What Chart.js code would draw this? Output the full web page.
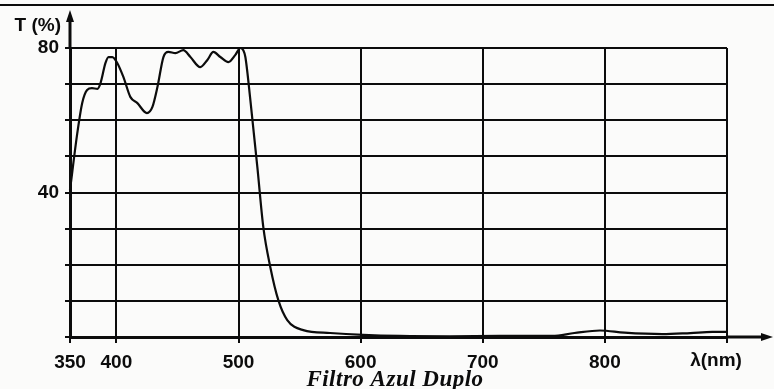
<!DOCTYPE html>
<html>
<head>
<meta charset="utf-8">
<style>
  html, body { margin: 0; padding: 0; background: #fbfbfa; }
</style>
<script src="https://cdn.jsdelivr.net/npm/chart.js@4/dist/chart.umd.min.js"></script>
</head>
<body>
<canvas id="chart" width="774" height="389"></canvas>
<script>
// Transmission curve of the double blue filter
const WAVELENGTH = [362, 368, 372, 376, 380, 384.5, 387, 391, 393.5, 396.7, 400.8, 405.7, 411.5, 417, 425,
    429.5, 433.6, 438.5, 442.6, 448.3, 454.8, 460.6, 468.7, 474.5, 479.4, 485.1, 491.7, 497.4, 501.5,
    503.9, 505.6, 509.7, 515.4, 520.3, 526, 532.6, 539.9, 553, 575, 602, 632, 673, 714, 757, 775, 796,
    816, 847, 870, 888, 900];
const TRANSMISSION = [40.7, 56.5, 64.8, 68.4, 68.9, 68.7, 70.3, 75.8, 77.5, 77.5, 75.8, 72, 66.4, 64.8, 62,
    63.7, 69.2, 77.5, 78.9, 78.6, 79.4, 77.5, 74.7, 76.7, 78.9, 77.5, 76.1, 78.1, 80,
    79.4, 77.5, 65.6, 47.1, 30.4, 19.4, 10.2, 4.7, 1.9, 1.1, 0.6, 0.3, 0.2, 0.3, 0.3, 1.1, 1.8,
    1.2, 0.8, 1.1, 1.4, 1.4];

// the printed axis starts a bit after 350 nm but is labelled 350
const X_MIN = 362;
const X_MAX = 900;
const X_TICK_VALUES = [362, 400, 500, 600, 700, 800, 900];
const X_TICK_LABELS = ['350', '400', '500', '600', '700', '800', ''];
const Y_TICK_LABELS = { 40: '40', 80: '80' };

const TITLE = 'Filtro Azul Duplo';
const Y_TITLE = 'T (%)';
const X_TITLE = 'λ(nm)';

const INK = '#0c0c0c';
const SANS = "'Liberation Sans', Arial, sans-serif";

const decorations = {
    id: 'decorations',
    beforeDraw(chart) {
        const { ctx } = chart;
        ctx.save();
        ctx.fillStyle = '#fbfbfa';
        ctx.fillRect(0, 0, chart.width, chart.height);
        ctx.restore();
    },
    afterDraw(chart) {
        const { ctx, chartArea: a } = chart;
        ctx.save();
        ctx.strokeStyle = INK;
        ctx.fillStyle = INK;

        // rule across the top of the page
        ctx.lineWidth = 2;
        ctx.beginPath();
        ctx.moveTo(0, 5);
        ctx.lineTo(chart.width, 5);
        ctx.stroke();

        // y axis runs up past 80 and ends in an arrow
        ctx.lineWidth = 3;
        ctx.beginPath();
        ctx.moveTo(a.left, a.top);
        ctx.lineTo(a.left, 20);
        ctx.stroke();
        ctx.beginPath();
        ctx.moveTo(a.left, 10);
        ctx.lineTo(a.left - 4, 22);
        ctx.lineTo(a.left + 4, 22);
        ctx.closePath();
        ctx.fill();

        // x axis runs out to the right with an arrow
        ctx.beginPath();
        ctx.moveTo(a.right, a.bottom);
        ctx.lineTo(762, a.bottom);
        ctx.stroke();
        ctx.beginPath();
        ctx.moveTo(773, a.bottom);
        ctx.lineTo(761, a.bottom - 4);
        ctx.lineTo(761, a.bottom + 4);
        ctx.closePath();
        ctx.fill();

        ctx.font = 'bold 19px ' + SANS;
        ctx.textAlign = 'right';
        ctx.textBaseline = 'middle';
        ctx.fillText(Y_TITLE, 61, 26);

        ctx.textAlign = 'center';
        ctx.fillText(X_TITLE, 716, 361);

        ctx.font = "italic bold 23px 'Liberation Serif', 'Times New Roman', serif";
        ctx.letterSpacing = '0.5px';
        ctx.textBaseline = 'alphabetic';
        ctx.fillText(TITLE, 395, 386);
        ctx.restore();
    }
};

new Chart(document.getElementById('chart'), {
    type: 'line',
    data: {
        datasets: [{
            data: WAVELENGTH.map((x, i) => ({ x, y: TRANSMISSION[i] })),
            borderColor: INK,
            borderWidth: 2.2,
            pointRadius: 0,
            fill: false,
            cubicInterpolationMode: 'monotone',
            clip: 4,
        }],
    },
    options: {
        responsive: false,
        animation: false,
        layout: { padding: { left: 0, right: 47, top: 48, bottom: 0 } },
        plugins: {
            legend: { display: false },
            tooltip: { enabled: false },
        },
        scales: {
            x: {
                type: 'linear',
                min: X_MIN,
                max: X_MAX,
                afterBuildTicks: scale => { scale.ticks = X_TICK_VALUES.map(value => ({ value })); },
                afterFit: scale => { scale.height = 52; },
                ticks: {
                    autoSkip: false,
                    maxRotation: 0,
                    padding: 8,
                    color: INK,
                    font: { family: SANS, size: 19, weight: 'bold' },
                    callback: (value, index) => X_TICK_LABELS[index],
                },
                grid: { color: INK, lineWidth: 2, tickLength: 6 },
                border: { color: INK, width: 3 },
            },
            y: {
                min: 0,
                max: 80,
                afterFit: scale => { scale.width = 70; },
                ticks: {
                    stepSize: 10,
                    padding: 6,
                    color: INK,
                    font: { family: SANS, size: 19, weight: 'bold' },
                    callback: value => Y_TICK_LABELS[value] ?? '',
                },
                grid: { color: INK, lineWidth: 2, tickLength: 5 },
                border: { color: INK, width: 3 },
            },
        },
    },
    plugins: [decorations],
});
</script>
</body>
</html>
